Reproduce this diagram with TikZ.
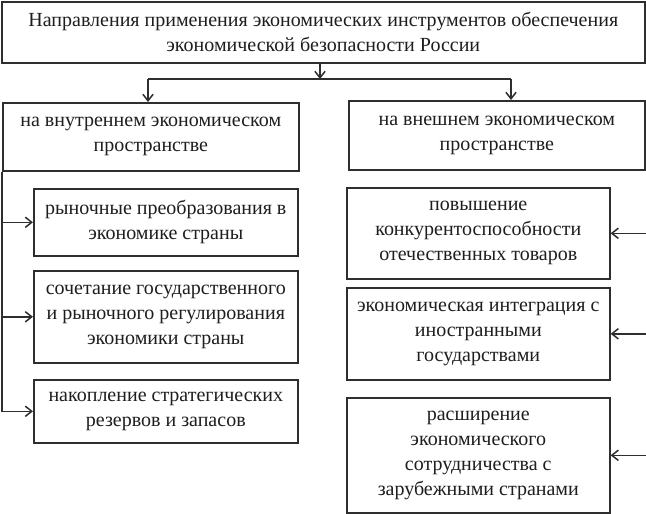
\documentclass[tikz,border=0pt]{standalone}
\usepackage{fontspec}
\setmainfont{Liberation Serif}
\usetikzlibrary{arrows.meta,positioning,calc}
\definecolor{line}{HTML}{2E2E2E}
\definecolor{ink}{HTML}{1E1E1E}
\tikzset{
  box/.style={
    draw=line, line width=1.6pt, fill=white,
    inner sep=0pt, anchor=north west,
    align=center, font=\fontsize{20}{25}\selectfont, text=ink
  },
  arrow/.style={-{Straight Barb[length=2.3mm,width=3.6mm]}, line width=1.5pt, draw=line},
  wire/.style={line width=1.5pt, draw=line}
}

\begin{document}
\begin{tikzpicture}[x=1pt, y=-1pt]
  \useasboundingbox (0,0) rectangle (646,514);
  % top level
  \node[box, minimum width=643pt, minimum height=61pt] (title) at (1,1)
    {Направления применения экономических инструментов обеспечения\\экономической безопасности России};
  \node[box, minimum width=296pt, minimum height=68pt] (inner) at (2,102)
    {на внутреннем экономическом\\пространстве};
  \node[box, minimum width=296pt, minimum height=69pt] (outer) at (348,100)
    {на внешнем экономическом\\пространстве};
  % inner branch
  \node[box, minimum width=264pt, minimum height=67pt] (market) at (33,188)
    {рыночные преобразования в\\экономике страны};
  \node[box, minimum width=264pt, minimum height=92pt] (mixed) at (33,270)
    {сочетание государственного\\и рыночного регулирования\\экономики страны};
  \node[box, minimum width=264pt, minimum height=63pt] (reserve) at (33,379)
    {накопление стратегических\\резервов и запасов};
  % outer branch
  \node[box, minimum width=263pt, minimum height=91pt] (compete) at (346,187)
    {повышение\\конкурентоспособности\\отечественных товаров};
  \node[box, minimum width=263pt, minimum height=92pt] (integr) at (346,287)
    {экономическая интеграция с\\иностранными\\государствами};
  \node[box, minimum width=263pt, minimum height=115pt] (coop) at (346,397)
    {расширение\\экономического\\сотрудничества с\\зарубежными странами};

  % connectors
  \coordinate (split) at (320,79);
  \coordinate (splitl) at (148,79);
  \coordinate (splitr) at (511,79);
  \coordinate (edge) at (646,0);
  \draw[arrow] (title.south -| split) -- (split);
  \draw[wire] (splitl) -- (splitr);
  \draw[arrow] (splitl) -- (inner.north -| splitl);
  \draw[arrow] (splitr) -- (outer.north -| splitr);
  \draw[arrow] (inner.south west) |- (reserve.west);
  \draw[arrow] (inner.south west |- market.west) -- (market.west);
  \draw[arrow] (inner.south west |- mixed.west) -- (mixed.west);
  \draw[arrow] (edge |- compete.east) -- (compete.east);
  \draw[arrow] (edge |- integr.east) -- (integr.east);
  \draw[arrow] (edge |- coop.east) -- (coop.east);
\end{tikzpicture}
\end{document}
